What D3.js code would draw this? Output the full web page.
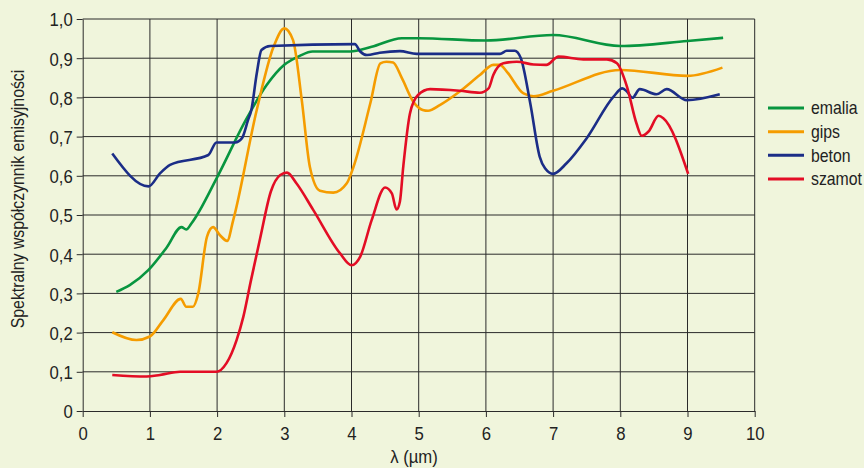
<!DOCTYPE html>
<html>
<head>
<meta charset="utf-8">
<script src="https://cdn.jsdelivr.net/npm/d3@7/dist/d3.min.js"></script>
<style>
  html, body { margin: 0; padding: 0; background: #f0f5dc; }
  svg { display: block; }
  text { font-family: "Liberation Sans", Arial, sans-serif; fill: #222; font-size: 19px; }
</style>
</head>
<body>
<svg id="chart" width="864" height="468"></svg>
<script>
// Spectral emissivity of building materials vs wavelength (µm)
const xTicks = [0, 1, 2, 3, 4, 5, 6, 7, 8, 9, 10];
const yTicks = [0, 0.1, 0.2, 0.3, 0.4, 0.5, 0.6, 0.7, 0.8, 0.9, 1.0];
const seriesNames = ["emalia", "gips", "beton", "szamot"];
const seriesColors = ["#08953f", "#f59c00", "#1b2d87", "#e30d25"];

const emalia = [[0.5,0.304],[0.7,0.321],[0.98,0.36],[1.25,0.417],[1.47,0.469],[1.54,0.463],[1.62,0.479],[2.0,0.596],[2.42,0.74],[2.74,0.832],[3.0,0.883],[3.23,0.906],[3.42,0.917],[3.98,0.917],[4.3,0.929],[4.75,0.951],[5.0,0.951],[6.0,0.945],[7.0,0.959],[8.0,0.931],[9.0,0.944],[9.53,0.952]];

const gips = [[0.44,0.201],[0.8,0.181],[1.0,0.19],[1.2,0.232],[1.46,0.286],[1.54,0.266],[1.64,0.266],[1.72,0.3],[1.85,0.445],[1.94,0.469],[2.04,0.449],[2.15,0.434],[2.24,0.487],[2.59,0.768],[2.84,0.929],[3.0,0.976],[3.13,0.946],[3.26,0.793],[3.38,0.623],[3.53,0.562],[3.73,0.557],[3.93,0.581],[4.03,0.623],[4.28,0.785],[4.43,0.887],[4.52,0.891],[4.62,0.889],[4.75,0.849],[4.92,0.789],[5.06,0.768],[5.14,0.766],[5.32,0.781],[5.61,0.815],[5.91,0.857],[6.11,0.883],[6.21,0.883],[6.31,0.866],[6.56,0.81],[6.71,0.803],[7.0,0.817],[8.0,0.87],[9.0,0.855],[9.52,0.876]];

const beton = [[0.44,0.657],[0.98,0.573],[1.15,0.606],[1.3,0.628],[1.87,0.653],[1.99,0.685],[2.27,0.685],[2.37,0.696],[2.46,0.742],[2.51,0.768],[2.59,0.861],[2.66,0.921],[2.79,0.931],[4.05,0.936],[4.13,0.917],[4.23,0.908],[4.42,0.914],[4.72,0.918],[4.97,0.911],[6.21,0.911],[6.31,0.919],[6.43,0.919],[6.52,0.9],[6.66,0.785],[6.8,0.649],[6.88,0.619],[7.0,0.605],[7.2,0.632],[7.5,0.696],[7.9,0.802],[8.03,0.823],[8.1,0.815],[8.18,0.799],[8.29,0.821],[8.54,0.808],[8.69,0.821],[8.99,0.793],[9.48,0.808]];

const szamot = [[0.44,0.092],[0.95,0.088],[1.15,0.092],[1.45,0.1],[1.99,0.1],[2.14,0.122],[2.29,0.181],[2.39,0.24],[2.5,0.33],[2.64,0.44],[2.8,0.56],[2.94,0.602],[3.04,0.608],[3.18,0.581],[3.43,0.513],[3.83,0.402],[4.0,0.372],[4.13,0.394],[4.3,0.487],[4.5,0.57],[4.6,0.555],[4.67,0.514],[4.72,0.534],[4.77,0.623],[4.87,0.759],[4.99,0.806],[5.17,0.821],[5.61,0.817],[5.91,0.812],[6.04,0.823],[6.11,0.857],[6.26,0.887],[6.46,0.891],[6.71,0.884],[6.9,0.883],[7.08,0.904],[7.45,0.897],[7.8,0.897],[7.95,0.887],[8.1,0.827],[8.24,0.734],[8.32,0.702],[8.42,0.713],[8.57,0.753],[8.64,0.747],[9.01,0.605]];

const seriesData = [emalia, gips, beton, szamot];

const svg = d3.select("#chart");
const plotLeft = 82.7, plotRight = 754.7, plotTop = 19, plotBottom = 411;
const narrow = 0.88; // horizontal squeeze for a condensed-looking face

const x = d3.scaleLinear().domain([0, 10]).range([plotLeft, plotRight]);
const y = d3.scaleLinear().domain([0, 1]).range([plotBottom, plotTop]);
const fmt = v => v === 0 ? "0" : d3.format(".1f")(v).replace(".", ",");

// grid
const grid = svg.append("g").attr("stroke", "#2b2b2b").attr("stroke-width", 1);
grid.selectAll("line.v").data(xTicks.slice(1)).join("line").attr("class", "v")
  .attr("x1", d => x(d)).attr("x2", d => x(d)).attr("y1", plotTop).attr("y2", plotBottom);
grid.selectAll("line.h").data(yTicks.slice(1)).join("line").attr("class", "h")
  .attr("x1", plotLeft).attr("x2", plotRight).attr("y1", d => y(d)).attr("y2", d => y(d));

// axes
const xAxis = d3.axisBottom(x).tickValues(xTicks).tickSize(6).tickSizeOuter(0).tickFormat(d => d);
const yAxis = d3.axisLeft(y).tickValues(yTicks).tickSize(6).tickSizeOuter(0).tickFormat(fmt);

const gx = svg.append("g").attr("transform", `translate(0,${plotBottom})`).call(xAxis);
const gy = svg.append("g").attr("transform", `translate(${plotLeft},0)`).call(yAxis);
[gx, gy].forEach(g => {
  g.attr("font-family", null).attr("font-size", null);
  g.select(".domain").attr("stroke", "#2b2b2b");
  g.selectAll(".tick line").attr("stroke", "#2b2b2b");
  g.selectAll(".tick text").attr("fill", "#222").attr("transform", `scale(${narrow},1)`);
});
gx.selectAll(".tick text").attr("dy", null).attr("y", 29);
gy.selectAll(".tick text").attr("x", -10 / narrow).attr("dy", "0.36em");

// axis titles
svg.append("text").attr("transform", `translate(414,463) scale(${narrow},1)`)
  .attr("text-anchor", "middle").text("λ (µm)");
svg.append("text").attr("transform", `translate(24,199) rotate(-90) scale(${narrow},1)`)
  .attr("text-anchor", "middle").style("font-size", "18px").text("Spektralny współczynnik emisyjności");

// curves
const line = d3.line().x(d => x(d[0])).y(d => y(d[1])).curve(d3.curveMonotoneX);
svg.append("g").selectAll("path").data(seriesData).join("path")
  .attr("d", line).attr("fill", "none")
  .attr("stroke", (d, i) => seriesColors[i]).attr("stroke-width", 2.6)
  .attr("stroke-linejoin", "round").attr("stroke-linecap", "butt");

// legend
const legendY = d3.scalePoint().domain(seriesNames).range([108, 179]);
const lg = svg.append("g");
lg.selectAll("line").data(seriesNames).join("line")
  .attr("x1", 768).attr("x2", 804)
  .attr("y1", d => legendY(d)).attr("y2", d => legendY(d))
  .attr("stroke", (d, i) => seriesColors[i]).attr("stroke-width", 3);
lg.selectAll("text").data(seriesNames).join("text")
  .attr("transform", d => `translate(811,${legendY(d)}) scale(${narrow},1)`)
  .attr("dy", "0.36em").style("font-size", "18px").text(d => d);
</script>
</body>
</html>
